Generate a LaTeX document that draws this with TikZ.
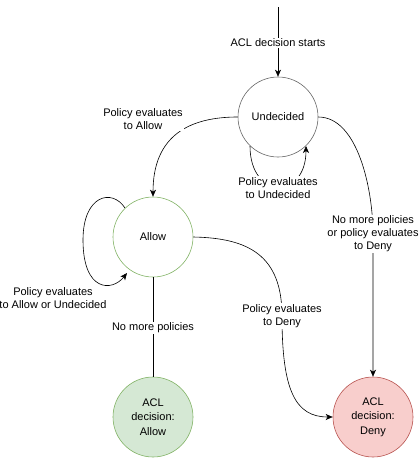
\documentclass[tikz,border=0pt]{standalone}
\usepackage{fontspec}
\setmainfont{Liberation Sans}
\usetikzlibrary{arrows.meta}
\definecolor{grn}{HTML}{82B366}
\definecolor{grnfill}{HTML}{D5E8D4}
\definecolor{red}{HTML}{B85450}
\definecolor{redfill}{HTML}{F8CECC}
\definecolor{gry}{HTML}{666666}
\begin{document}
\begin{tikzpicture}[x=1pt,y=-1pt,
  state/.style={circle,draw,minimum size=80pt,inner sep=0pt,align=center,
    font=\fontsize{11}{14.5}\selectfont,line width=0.6pt},
  lbl/.style={fill=white,inner sep=1pt,align=center,font=\fontsize{11}{13}\selectfont},
  conn/.style={line width=0.6pt},
  arr/.style={conn,-{Stealth[length=7pt,width=6pt,inset=2pt]}}]
\useasboundingbox (0,0) rectangle (419,458);
\node[state,draw=gry] (und) at (278,117) {Undecided};
\node[state,draw=grn] (allow) at (153,237) {Allow};
\node[state,draw=grn,fill=grnfill] (acla) at (153,417) {ACL\\decision:\\Allow};
\node[state,draw=red,fill=redfill] (acld) at (373,417) {ACL\\decision:\\Deny};
\coordinate (start) at (278,7);
\coordinate (l1) at (278,43);
\coordinate (l2) at (143,119);
\coordinate (l3) at (278,188);
\coordinate (l4) at (373,234);
\coordinate (l6) at (153,328);
\coordinate (l7) at (282,316);
\coordinate (ua) at (250,146);
\coordinate (ub) at (306,146);
\coordinate (aa) at (125,208);
\coordinate (ab) at (127,273);
% connectors
\draw[arr] (start) -- (und.north);
\draw[arr] (und.west) .. controls (190,117) and (153,135) .. (allow.north);
\draw[arr] (ua) .. controls (250,200) and (306,200) .. (ub);
\draw[arr] (und.east) .. controls (358,117) and (373,190) .. (l4) -- (acld.north);
\draw[arr] (aa) .. controls (112,188) and (83,195) .. (83,240) .. controls (83,292) and (112,292) .. (ab);
\draw[conn] (allow.south) -- (acla.north);
\draw[arr] (allow.east) .. controls (248,238) and (282,255) .. (l7) .. controls (282,390) and (295,417) .. (acld.west);
% labels
\node[lbl] (t1) at (l1) {ACL decision starts};
\node[lbl] (t2) at (l2) {Policy evaluates\\to Allow};
\node[lbl] (t3) at (l3) {Policy evaluates\\to Undecided};
\node[lbl] (t4) at (l4) {No more policies\\or policy evaluates\\to Deny};
\node[lbl] (t5) at (53,298) {Policy evaluates\\to Allow or Undecided};
\node[lbl] (t6) at (l6) {No more policies};
\node[lbl] (t7) at (l7) {Policy evaluates\\to Deny};
\end{tikzpicture}
\end{document}
